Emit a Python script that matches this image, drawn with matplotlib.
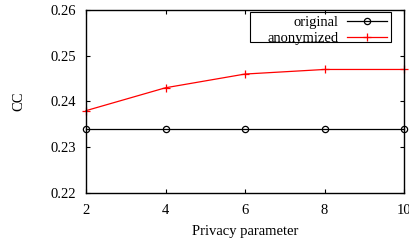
import matplotlib.pyplot as plt
from matplotlib.patches import Rectangle

plt.rcParams['font.family'] = ['Liberation Serif', 'DejaVu Serif']

privacy = [2, 4, 6, 8, 10]
cc_original = [0.234, 0.234, 0.234, 0.234, 0.234]
cc_anonymized = [0.238, 0.243, 0.246, 0.247, 0.247]

fig = plt.figure(figsize=(4.1, 2.42), dpi=100)
ax = fig.add_axes([0.2098, 0.2025, 0.7756, 0.7562])

ax.plot(privacy, cc_original, color='black', lw=0.9, marker='o', markersize=4.5,
        markerfacecolor='none', markeredgewidth=0.9, label='original', clip_on=False)
ax.plot(privacy, cc_anonymized, color='red', lw=0.9, marker='+', markersize=6,
        markeredgewidth=0.9, label='anonymized', clip_on=False)

ax.set_xlim(2, 10)
ax.set_ylim(0.22, 0.26)
ax.set_xticks(privacy)
ax.set_yticks([0.22, 0.23, 0.24, 0.25, 0.26])
ax.set_yticklabels(['0.22', '0.23', '0.24', '0.25', '0.26'])
ax.tick_params(direction='in', top=True, right=True, labelsize=10.5, length=3, width=0.8)
ax.tick_params(axis='y', pad=7)
ax.tick_params(axis='x', pad=8)
for s in ax.spines.values():
    s.set_linewidth(1.0)

ax.set_xlabel('Privacy parameter', fontsize=10.5, labelpad=5.5)
ax.set_ylabel('CC', fontsize=10.5, labelpad=18)

# legend with gnuplot-like box (wider padding on the left)
leg = ax.legend(loc='upper right', bbox_to_anchor=(391 / 410, 1 - 12 / 242),
                bbox_transform=fig.transFigure, markerfirst=False, fontsize=10.5,
                frameon=False, borderpad=0.28, labelspacing=0.15, handlelength=2.75,
                handletextpad=0.55, borderaxespad=0)
fig.patches.append(Rectangle((250 / 410, 1 - 42 / 242), 141 / 410, 30 / 242,
                             transform=fig.transFigure, fill=False,
                             edgecolor='black', linewidth=0.8, zorder=5))

fig.savefig('out.png', dpi=100)
